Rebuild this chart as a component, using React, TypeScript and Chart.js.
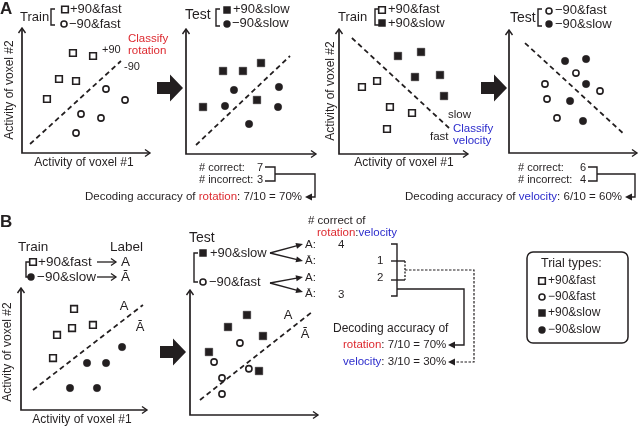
import React, { useEffect, useRef } from "react";
import { Chart, registerables } from "chart.js";
Chart.register(...registerables);

const FONT = '"Liberation Sans", Arial, Helvetica, sans-serif';
const INK = "#231f20";
const RED = "#dd2a30";
const BLUE = "#2c2ccc";
const PAD = 8;

// ---------- data (voxel activity, arbitrary units 0..10) ----------
const a1Plus90Fast = [[3.98, 8.0], [5.55, 7.76], [2.89, 5.92], [4.22, 5.76], [1.95, 4.32]];
const a1Minus90Fast = [[6.56, 5.12], [8.05, 4.24], [4.61, 3.12], [6.17, 2.8], [4.22, 1.6]];
const a1Boundary = [[0.63, 0.72], [7.73, 7.36]];

const a2Plus90Slow = [[2.85, 6.64], [4.38, 6.64], [5.77, 7.28], [1.31, 3.76], [5.46, 4.32]];
const a2Minus90Slow = [[3.69, 5.12], [7.15, 5.36], [3.0, 3.84], [7.08, 3.76], [4.85, 2.4]];
const a2Boundary = [[0.77, 0.72], [8.0, 7.84]];

const a3Plus90Fast = [[1.78, 5.36], [2.95, 5.84], [3.95, 3.76], [5.66, 3.28], [3.72, 2.0]];
const a3Plus90Slow = [[4.57, 7.84], [6.36, 8.16], [5.89, 6.16], [7.83, 6.32], [8.14, 4.64]];
const a3Boundary = [[1.0, 9.28], [8.53, 2.08]];

const a4Minus90Slow = [[4.38, 7.48], [6.02, 7.64], [6.02, 5.61], [4.77, 4.23], [5.78, 2.6]];
const a4Minus90Fast = [[5.23, 6.5], [2.81, 5.61], [7.11, 5.04], [2.97, 4.39], [3.75, 2.85]];
const a4Boundary = [[1.25, 8.94], [8.98, 1.54]];

const b1Plus90Fast = [[4.21, 8.28], [2.86, 6.15], [4.05, 6.72], [5.71, 6.97], [2.54, 4.26]];
const b1Minus90Slow = [[8.02, 5.16], [5.24, 3.85], [6.75, 3.85], [3.89, 1.8], [6.03, 1.8]];
const b1Boundary = [[0.95, 1.64], [9.68, 8.61]];

const b2Plus90Slow = [[4.45, 8.0], [2.97, 7.04], [5.7, 6.32], [1.48, 5.04], [5.39, 3.52]];
const b2Minus90Fast = [[3.9, 5.76], [1.88, 4.24], [4.6, 3.7], [2.5, 2.96], [2.5, 1.68]];
const b2Boundary = [[0.78, 1.2], [9.53, 8.24]];

const correctCountsA = [7, 3];
const correctCountsA4 = [6, 4];
const correctOfB = ["4", "1", "2", "3"];

// ---------- panel layout ----------
type Group = { pts: number[][]; shape: "rect" | "circle"; filled: boolean };
type PanelSpec = { box: number[]; groups: Group[]; boundary: number[][] };

const PANELS: PanelSpec[] = [
  { box: [22, 28, 150, 153], boundary: a1Boundary, groups: [
    { pts: a1Plus90Fast, shape: "rect", filled: false },
    { pts: a1Minus90Fast, shape: "circle", filled: false }] },
  { box: [186, 29, 316, 154], boundary: a2Boundary, groups: [
    { pts: a2Plus90Slow, shape: "rect", filled: true },
    { pts: a2Minus90Slow, shape: "circle", filled: true }] },
  { box: [339, 29, 468, 154], boundary: a3Boundary, groups: [
    { pts: a3Plus90Fast, shape: "rect", filled: false },
    { pts: a3Plus90Slow, shape: "rect", filled: true }] },
  { box: [509, 30, 637, 153], boundary: a4Boundary, groups: [
    { pts: a4Minus90Fast, shape: "circle", filled: false },
    { pts: a4Minus90Slow, shape: "circle", filled: true }] },
  { box: [21, 288, 147, 410], boundary: b1Boundary, groups: [
    { pts: b1Plus90Fast, shape: "rect", filled: false },
    { pts: b1Minus90Slow, shape: "circle", filled: true }] },
  { box: [190, 290, 318, 415], boundary: b2Boundary, groups: [
    { pts: b2Plus90Slow, shape: "rect", filled: true },
    { pts: b2Minus90Fast, shape: "circle", filled: false }] },
];

// ---------- drawing helpers ----------
type TO = { size?: number; color?: string; align?: CanvasTextAlign; bold?: boolean; rot?: number };
function txt(ctx: CanvasRenderingContext2D, s: string, x: number, y: number, o: TO = {}) {
  ctx.save();
  ctx.font = `${o.bold ? "bold " : ""}${o.size ?? 12}px ${FONT}`;
  ctx.fillStyle = o.color ?? INK;
  ctx.textAlign = o.align ?? "left";
  ctx.textBaseline = "middle";
  if (o.rot) {
    ctx.translate(x, y);
    ctx.rotate(o.rot);
    ctx.fillText(s, 0, 0);
  } else ctx.fillText(s, x, y);
  ctx.restore();
}
function rich(ctx: CanvasRenderingContext2D, parts: [string, string][], x: number, y: number, size: number, align: "left" | "right" = "left") {
  ctx.save();
  ctx.font = `${size}px ${FONT}`;
  ctx.textBaseline = "middle";
  ctx.textAlign = "left";
  const total = parts.reduce((a, p) => a + ctx.measureText(p[0]).width, 0);
  let cx = align === "right" ? x - total : x;
  for (const [s, c] of parts) {
    ctx.fillStyle = c;
    ctx.fillText(s, cx, y);
    cx += ctx.measureText(s).width;
  }
  ctx.restore();
}
function poly(ctx: CanvasRenderingContext2D, pts: number[][], w = 1.4, dash: number[] = []) {
  ctx.save();
  ctx.beginPath();
  ctx.setLineDash(dash);
  ctx.lineWidth = w;
  ctx.strokeStyle = INK;
  ctx.lineJoin = "miter";
  pts.forEach(([x, y], i) => (i ? ctx.lineTo(x, y) : ctx.moveTo(x, y)));
  ctx.stroke();
  ctx.restore();
}
function head(ctx: CanvasRenderingContext2D, x1: number, y1: number, x2: number, y2: number, len = 7, half = 3, open = false) {
  const a = Math.atan2(y2 - y1, x2 - x1);
  const bx = x2 - len * Math.cos(a), by = y2 - len * Math.sin(a);
  const px = -Math.sin(a) * half, py = Math.cos(a) * half;
  ctx.save();
  ctx.beginPath();
  ctx.moveTo(bx + px, by + py);
  ctx.lineTo(x2, y2);
  ctx.lineTo(bx - px, by - py);
  if (open) {
    ctx.lineWidth = 1.3;
    ctx.strokeStyle = INK;
    ctx.stroke();
  } else {
    ctx.closePath();
    ctx.fillStyle = INK;
    ctx.fill();
  }
  ctx.restore();
}
function arrow(ctx: CanvasRenderingContext2D, x1: number, y1: number, x2: number, y2: number, open = false) {
  const a = Math.atan2(y2 - y1, x2 - x1);
  const trim = open ? 0 : 5;
  poly(ctx, [[x1, y1], [x2 - trim * Math.cos(a), y2 - trim * Math.sin(a)]], 1.3);
  head(ctx, x1, y1, x2, y2, open ? 5 : 7, open ? 3.5 : 3, open);
}
function bracket(ctx: CanvasRenderingContext2D, x: number, y1: number, y2: number, tx: number) {
  poly(ctx, [[tx, y1], [x, y1], [x, y2], [tx, y2]], 1.4);
}
function marker(ctx: CanvasRenderingContext2D, shape: string, filled: boolean, x: number, y: number) {
  ctx.save();
  ctx.beginPath();
  if (shape === "rect") {
    const s = filled ? 7.5 : 6.6;
    ctx.rect(x - s / 2, y - s / 2, s, s);
  } else ctx.arc(x, y, filled ? 3.7 : 3.0, 0, Math.PI * 2);
  if (filled) {
    ctx.fillStyle = INK;
    ctx.fill();
  } else {
    ctx.fillStyle = "#fff";
    ctx.fill();
    ctx.lineWidth = 1.6;
    ctx.strokeStyle = INK;
    ctx.stroke();
  }
  ctx.restore();
}
function blockArrow(ctx: CanvasRenderingContext2D, tip: number, cy: number, len = 26, headLen = 13, headHalf = 13.5, bodyHalf = 6) {
  const tail = tip - len, neck = tip - headLen;
  ctx.save();
  ctx.beginPath();
  ctx.moveTo(tail, cy - bodyHalf);
  ctx.lineTo(neck, cy - bodyHalf);
  ctx.lineTo(neck, cy - headHalf);
  ctx.lineTo(tip, cy);
  ctx.lineTo(neck, cy + headHalf);
  ctx.lineTo(neck, cy + bodyHalf);
  ctx.lineTo(tail, cy + bodyHalf);
  ctx.closePath();
  ctx.fillStyle = INK;
  ctx.fill();
  ctx.restore();
}

const VOX1 = "Activity of voxel #1";
const VOX2 = "Activity of voxel #2";
const UP = -Math.PI / 2;

function drawFigure(ctx: CanvasRenderingContext2D) {
  // panel letters
  txt(ctx, "A", 0, 9, { size: 17, bold: true });
  txt(ctx, "B", 0, 222, { size: 17, bold: true });

  // ---- A1 ----
  txt(ctx, "Train", 20, 17, { size: 13 });
  bracket(ctx, 51, 9, 25, 55);
  marker(ctx, "rect", false, 65, 9.5);
  txt(ctx, "+90&fast", 70, 9.5, { size: 13 });
  marker(ctx, "circle", false, 64, 24);
  txt(ctx, "\u221290&fast", 69, 24, { size: 13 });
  txt(ctx, VOX2, 10, 90, { size: 12, rot: UP, align: "center" });
  txt(ctx, VOX1, 84, 163, { size: 12, align: "center" });
  txt(ctx, "+90", 102, 50, { size: 11 });
  txt(ctx, "-90", 124, 67, { size: 11 });
  txt(ctx, "Classify", 128, 39, { size: 11.5, color: RED });
  txt(ctx, "rotation", 128, 51, { size: 11.5, color: RED });
  blockArrow(ctx, 183, 88);

  // ---- A2 ----
  txt(ctx, "Test", 185, 15, { size: 14 });
  bracket(ctx, 216, 9, 26, 220);
  marker(ctx, "rect", true, 227, 10);
  txt(ctx, "+90&slow", 233, 9.5, { size: 13 });
  marker(ctx, "circle", true, 227, 24);
  txt(ctx, "\u221290&slow", 232, 23.5, { size: 13 });
  txt(ctx, "# correct:", 199, 168, { size: 11 });
  txt(ctx, String(correctCountsA[0]), 257, 168, { size: 11 });
  txt(ctx, "# incorrect:", 199, 180, { size: 11 });
  txt(ctx, String(correctCountsA[1]), 257, 180, { size: 11 });
  poly(ctx, [[265, 167], [275, 167], [275, 181], [265, 181]]);
  poly(ctx, [[275, 174], [315, 174], [315, 197], [311, 197]]);
  head(ctx, 315, 197, 305, 197, 7, 3.5);
  rich(ctx, [["Decoding accuracy of ", INK], ["rotation", RED], [": 7/10 = 70%", INK]], 302, 197, 11.5, "right");

  // ---- A3 ----
  txt(ctx, "Train", 338, 17, { size: 13 });
  bracket(ctx, 375, 9, 25, 379);
  marker(ctx, "rect", false, 382, 10);
  txt(ctx, "+90&fast", 388, 9.5, { size: 13 });
  marker(ctx, "rect", true, 382, 23);
  txt(ctx, "+90&slow", 388, 23, { size: 13 });
  txt(ctx, VOX2, 331, 91, { size: 12, rot: UP, align: "center" });
  txt(ctx, VOX1, 404, 163, { size: 12, align: "center" });
  txt(ctx, "slow", 448, 115, { size: 11.5 });
  txt(ctx, "fast", 430, 137, { size: 11.5 });
  txt(ctx, "Classify", 453, 129, { size: 11.5, color: BLUE });
  txt(ctx, "velocity", 453, 141, { size: 11.5, color: BLUE });
  blockArrow(ctx, 507, 88);

  // ---- A4 ----
  txt(ctx, "Test", 510, 18, { size: 14 });
  bracket(ctx, 538, 9, 26, 542);
  marker(ctx, "circle", false, 549, 11);
  txt(ctx, "\u221290&fast", 555, 10, { size: 13 });
  marker(ctx, "circle", true, 549, 24);
  txt(ctx, "\u221290&slow", 555, 24, { size: 13 });
  txt(ctx, "# correct:", 518, 168, { size: 11 });
  txt(ctx, String(correctCountsA4[0]), 580, 168, { size: 11 });
  txt(ctx, "# incorrect:", 518, 180, { size: 11 });
  txt(ctx, String(correctCountsA4[1]), 580, 180, { size: 11 });
  poly(ctx, [[588, 167], [597, 167], [597, 181], [588, 181]]);
  poly(ctx, [[597, 174], [635, 174], [635, 197], [631, 197]]);
  head(ctx, 635, 197, 625, 197, 7, 3.5);
  rich(ctx, [["Decoding accuracy of ", INK], ["velocity", BLUE], [": 6/10 = 60%", INK]], 622, 197, 11.5, "right");

  // ---- B1 ----
  txt(ctx, "Train", 18, 247, { size: 13.5 });
  txt(ctx, "Label", 110, 247, { size: 13.5 });
  bracket(ctx, 26, 262, 277, 30);
  marker(ctx, "rect", false, 33, 262);
  txt(ctx, "+90&fast", 38, 262, { size: 13.5 });
  arrow(ctx, 97, 262, 116, 262, true);
  txt(ctx, "A", 121, 262, { size: 13.5 });
  marker(ctx, "circle", true, 31, 277);
  txt(ctx, "\u221290&slow", 37, 277, { size: 13.5 });
  arrow(ctx, 97, 277, 116, 277, true);
  txt(ctx, "\u0100", 121, 277, { size: 13.5 });
  txt(ctx, VOX2, 8, 352, { size: 12, rot: UP, align: "center" });
  txt(ctx, VOX1, 82, 420, { size: 12, align: "center" });
  txt(ctx, "A", 124, 306, { size: 13, align: "center" });
  txt(ctx, "\u0100", 140, 327, { size: 13, align: "center" });
  blockArrow(ctx, 186, 352);

  // ---- B2 ----
  txt(ctx, "Test", 189, 238, { size: 14 });
  bracket(ctx, 194, 253, 282, 198);
  marker(ctx, "rect", true, 203, 253);
  txt(ctx, "+90&slow", 210, 253, { size: 13 });
  marker(ctx, "circle", false, 203, 282);
  txt(ctx, "\u221290&fast", 209, 282, { size: 13 });
  arrow(ctx, 270, 253, 303, 244);
  arrow(ctx, 270, 253, 303, 261);
  arrow(ctx, 270, 283, 303, 277);
  arrow(ctx, 270, 283, 303, 292);
  txt(ctx, "A:", 305, 245, { size: 11.5 });
  txt(ctx, "\u0100:", 305, 261, { size: 11.5 });
  txt(ctx, "A:", 305, 278, { size: 11.5 });
  txt(ctx, "\u0100:", 305, 294, { size: 11.5 });
  txt(ctx, correctOfB[0], 338, 245, { size: 11.5 });
  txt(ctx, correctOfB[1], 377, 261, { size: 11.5 });
  txt(ctx, correctOfB[2], 377, 278, { size: 11.5 });
  txt(ctx, correctOfB[3], 338, 295, { size: 11.5 });
  txt(ctx, "# correct of", 308, 221, { size: 11.5 });
  rich(ctx, [["rotation", RED], [":", INK], ["velocity", BLUE]], 317, 233, 11.5);
  // brackets
  poly(ctx, [[391, 244], [397, 244], [397, 296], [391, 296]]);
  poly(ctx, [[391, 261], [405, 261]]);
  poly(ctx, [[391, 280], [405, 280]]);
  poly(ctx, [[405, 261], [405, 280]], 1.3, [2, 1.5]);
  poly(ctx, [[405, 270], [474, 270], [474, 362], [456, 362]], 1.2, [2.5, 1.5]);
  head(ctx, 474, 362, 448, 362, 7, 3.5);
  poly(ctx, [[397, 289], [464, 289], [464, 345], [455, 345]]);
  head(ctx, 464, 345, 448, 345, 7, 3.5);
  txt(ctx, "A", 288, 315, { size: 13, align: "center" });
  txt(ctx, "\u0100", 305, 334, { size: 13, align: "center" });
  txt(ctx, "Decoding accuracy of", 333, 329, { size: 12 });
  rich(ctx, [["rotation", RED], [": 7/10 = 70%", INK]], 343, 345, 11.5);
  rich(ctx, [["velocity", BLUE], [": 3/10 = 30%", INK]], 343, 362, 11.5);

  // ---- trial types box ----
  ctx.save();
  ctx.beginPath();
  ctx.roundRect(527, 252, 101, 91, 6);
  ctx.lineWidth = 1.5;
  ctx.strokeStyle = INK;
  ctx.stroke();
  ctx.restore();
  txt(ctx, "Trial types:", 541, 264, { size: 12.5 });
  marker(ctx, "rect", false, 542, 281);
  txt(ctx, "+90&fast", 548, 281, { size: 12 });
  marker(ctx, "circle", false, 542, 297);
  txt(ctx, "\u221290&fast", 548, 297, { size: 12 });
  marker(ctx, "rect", true, 542, 313);
  txt(ctx, "+90&slow", 548, 313, { size: 12 });
  marker(ctx, "circle", true, 542, 330);
  txt(ctx, "\u221290&slow", 548, 330, { size: 12 });
}

// ---------- components ----------
const axesPlugin = {
  id: "panelAxes",
  beforeDatasetsDraw(chart: any) {
    const { ctx, chartArea } = chart;
    const { left, right, top, bottom } = chartArea;
    ctx.save();
    ctx.strokeStyle = INK;
    ctx.lineWidth = 1.7;
    ctx.lineJoin = "miter";
    ctx.beginPath();
    ctx.moveTo(left, top + 1);
    ctx.lineTo(left, bottom);
    ctx.lineTo(right - 1, bottom);
    ctx.stroke();
    ctx.lineWidth = 1.4;
    ctx.beginPath();
    ctx.moveTo(left - 3.5, top + 5);
    ctx.lineTo(left, top);
    ctx.lineTo(left + 3.5, top + 5);
    ctx.moveTo(right - 5, bottom - 3.5);
    ctx.lineTo(right, bottom);
    ctx.lineTo(right - 5, bottom + 3.5);
    ctx.stroke();
    ctx.restore();
  },
};

function Panel({ spec }: { spec: PanelSpec }) {
  const ref = useRef<HTMLCanvasElement>(null);
  const [l, t, r, b] = spec.box;
  const w = r - l + 2 * PAD, h = b - t + 2 * PAD;
  useEffect(() => {
    const toXY = (p: number[][]) => p.map(([x, y]) => ({ x, y }));
    const chart = new Chart(ref.current!, {
      type: "scatter",
      data: {
        datasets: [
          ...spec.groups.map((g) => ({
            data: toXY(g.pts),
            pointStyle: g.shape,
            pointRadius: g.shape === "rect" ? (g.filled ? 5.3 : 4.7) : g.filled ? 3.7 : 3.1,
            pointHoverRadius: g.shape === "rect" ? (g.filled ? 5.3 : 4.7) : g.filled ? 3.7 : 3.1,
            pointBackgroundColor: g.filled ? INK : "#fff",
            pointBorderColor: INK,
            pointBorderWidth: g.filled ? 0.5 : 1.6,
            clip: false as any,
          })),
          {
            data: toXY(spec.boundary),
            showLine: true,
            borderColor: INK,
            borderWidth: 1.8,
            borderDash: [5, 3.5],
            pointRadius: 0,
            pointHoverRadius: 0,
            clip: false as any,
          },
        ],
      },
      options: {
        animation: false,
        responsive: false,
        events: [],
        layout: { padding: PAD },
        plugins: { legend: { display: false }, tooltip: { enabled: false } },
        scales: {
          x: { type: "linear", min: 0, max: 10, display: false },
          y: { type: "linear", min: 0, max: 10, display: false },
        },
      },
      plugins: [axesPlugin],
    } as any);
    return () => chart.destroy();
  }, [spec]);
  return (
    <canvas ref={ref} width={w} height={h}
      style={{ position: "absolute", left: l - PAD, top: t - PAD, width: w, height: h }} />
  );
}

function Overlay() {
  const ref = useRef<HTMLCanvasElement>(null);
  useEffect(() => {
    const chart = new Chart(ref.current!, {
      type: "scatter",
      data: { datasets: [] },
      options: {
        animation: false,
        responsive: false,
        events: [],
        plugins: { legend: { display: false }, tooltip: { enabled: false } },
        scales: { x: { display: false }, y: { display: false } },
      },
      plugins: [{ id: "figureText", afterDraw: (c: any) => drawFigure(c.ctx) }],
    } as any);
    return () => chart.destroy();
  }, []);
  return <canvas ref={ref} width={640} height={428}
    style={{ position: "absolute", left: 0, top: 0, width: 640, height: 428 }} />;
}

export default function App() {
  useEffect(() => {
    document.body.style.margin = "0";
  }, []);
  return (
    <div style={{ position: "fixed", left: 0, top: 0, width: 640, height: 428, overflow: "hidden", background: "#fff" }}>
      <Overlay />
      {PANELS.map((p, i) => (
        <Panel key={i} spec={p} />
      ))}
    </div>
  );
}
